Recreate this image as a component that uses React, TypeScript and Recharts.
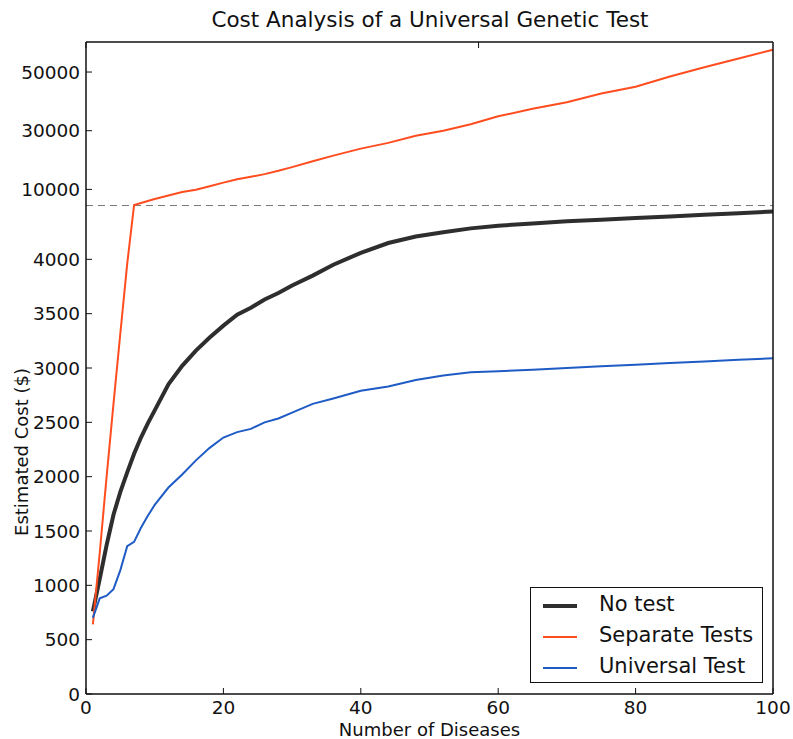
import { LineChart, Line, XAxis, YAxis, ReferenceLine, Legend } from "recharts";

const diseaseCounts = [
  1, 2, 3, 4, 5, 6, 7, 8, 9, 10, 12, 14, 16, 18, 20, 22, 24, 26, 28, 30, 33, 36, 40, 44, 48, 52, 56, 60,
  65, 70, 75, 80, 85, 90, 95, 100,
];
const noTestCost = [
  760, 1060, 1370, 1650, 1860, 2040, 2210, 2360, 2490, 2610, 2850, 3020, 3160, 3280, 3390, 3490, 3555,
  3630, 3690, 3760, 3850, 3950, 4060, 4150, 4210, 4250, 4285, 4310, 4330, 4350, 4365, 4380, 4395, 4410,
  4425, 4440,
];
const separateTestsCost = [
  640, 1300, 2000, 2670, 3320, 3960, 4700, 5370, 6030, 6700, 7900, 9100, 9900, 11100, 12300, 13450,
  14280, 15200, 16330, 17600, 19600, 21500, 23900, 25850, 28250, 30000, 32200, 34900, 37500, 39700,
  42700, 45000, 48500, 51600, 54600, 57600,
];
const universalTestCost = [
  700, 880, 905, 965, 1140, 1360, 1400, 1530, 1640, 1740, 1900, 2020, 2150, 2265, 2360, 2410, 2440, 2500,
  2535, 2590, 2670, 2720, 2790, 2830, 2890, 2930, 2960, 2970, 2985, 3000, 3015, 3030, 3045, 3060, 3075,
  3090,
];
const yTickValues = [0, 500, 1000, 1500, 2000, 2500, 3000, 3500, 4000, 10000, 30000, 50000];
const xTickValues = [0, 20, 40, 60, 80, 100];
const seriesNames = ["No test", "Separate Tests", "Universal Test"];
const seriesColors = ["#2e2e2e", "#ff4d1f", "#1f5bc4"];

// broken y axis: plain scale up to the break, squeezed above it
const BREAK = 4495;
const UPPER_RATIO = 0.027;
const toAxis = (v: number) => (v <= BREAK ? v : BREAK + (v - BREAK) * UPPER_RATIO);

const data = diseaseCounts.map((n, i) => ({
  n,
  noTest: toAxis(noTestCost[i]),
  separate: toAxis(separateTestsCost[i]),
  universal: toAxis(universalTestCost[i]),
}));

const yTicks = yTickValues.map(toAxis);
const yLabel = (t: number) => {
  const i = yTicks.findIndex((v) => Math.abs(v - t) < 0.01);
  return i >= 0 ? String(yTickValues[i]) : "";
};

const FONT = "'DejaVu Sans', sans-serif";
const tickStyle = { fontFamily: FONT, fontSize: 18.5, fill: "#111" };
const labelStyle = { fontFamily: FONT, fontSize: 18, fill: "#111" };
const frame = { stroke: "#111", strokeWidth: 1.5 };
const noLabel = () => <g />;

function LegendBox() {
  const widths = [4, 2, 2];
  return (
    <div
      style={{
        position: "relative",
        width: 233,
        height: 96,
        border: "1.5px solid #111",
        background: "#fff",
        boxSizing: "border-box",
        fontFamily: FONT,
        fontSize: 21,
        color: "#111",
      }}
    >
      {seriesNames.map((name, i) => (
        <div key={name} style={{ position: "absolute", left: 0, top: 3 + i * 31, height: 28, width: "100%" }}>
          <svg width={60} height={28} style={{ position: "absolute", left: 0, top: 0 }}>
            <line x1={12} x2={46} y1={15} y2={15} stroke={seriesColors[i]} strokeWidth={widths[i]} />
          </svg>
          <span style={{ position: "absolute", left: 68, top: 1, whiteSpace: "nowrap" }}>{name}</span>
        </div>
      ))}
    </div>
  );
}

export default function App() {
  return (
    <div style={{ position: "absolute", left: 0, top: 0, width: 793, height: 739, background: "#fff" }}>
      <div
        style={{
          position: "absolute",
          left: 0,
          width: 860,
          top: 7,
          textAlign: "center",
          fontFamily: FONT,
          fontSize: 21.5,
          color: "#111",
          whiteSpace: "nowrap",
        }}
      >
        Cost Analysis of a Universal Genetic Test
      </div>
      <div
        style={{
          position: "absolute",
          left: 21,
          top: 452,
          transform: "translate(-50%, -50%) rotate(-90deg)",
          fontFamily: FONT,
          fontSize: 18,
          color: "#111",
          whiteSpace: "nowrap",
        }}
      >
        Estimated Cost ($)
      </div>
      <LineChart
        width={793}
        height={739}
        data={data}
        margin={{ top: 41, right: 19, bottom: 0, left: 6 }}
        style={{ position: "absolute", left: 0, top: 0 }}
      >
        <XAxis
          dataKey="n"
          type="number"
          domain={[0, 100]}
          ticks={xTickValues}
          height={45}
          tickSize={-6}
          tickMargin={13}
          tick={tickStyle}
          axisLine={frame}
          tickLine={{ stroke: "#111" }}
          label={{ value: "Number of Diseases", position: "insideBottom", offset: 3, style: labelStyle }}
        />
        <XAxis
          xAxisId="top"
          orientation="top"
          type="number"
          domain={[0, 100]}
          ticks={xTickValues}
          height={1}
          tickSize={-6}
          tick={noLabel}
          axisLine={frame}
          tickLine={{ stroke: "#111" }}
        />
        <YAxis
          type="number"
          domain={[0, 6000]}
          ticks={yTicks}
          width={80}
          tickSize={-6}
          tickMargin={12}
          tick={tickStyle}
          tickFormatter={yLabel}
          axisLine={frame}
          tickLine={{ stroke: "#111" }}
        />
        <YAxis
          yAxisId="right"
          orientation="right"
          type="number"
          domain={[0, 6000]}
          ticks={yTicks}
          width={1}
          tickSize={-6}
          tick={noLabel}
          axisLine={frame}
          tickLine={{ stroke: "#111" }}
        />
        <ReferenceLine y={BREAK} stroke="#777" strokeDasharray="7 5" strokeWidth={1} />
        <Line
          dataKey="noTest"
          name={seriesNames[0]}
          stroke={seriesColors[0]}
          strokeWidth={4}
          dot={false}
          type="linear"
          isAnimationActive={false}
        />
        <Line
          dataKey="separate"
          name={seriesNames[1]}
          stroke={seriesColors[1]}
          strokeWidth={2}
          dot={false}
          type="linear"
          isAnimationActive={false}
        />
        <Line
          dataKey="universal"
          name={seriesNames[2]}
          stroke={seriesColors[2]}
          strokeWidth={2}
          dot={false}
          type="linear"
          isAnimationActive={false}
        />
        <Legend
          layout="horizontal"
          verticalAlign="middle"
          content={() => <LegendBox />}
          wrapperStyle={{ position: "absolute", left: 530, top: 587, width: 233, height: 96 }}
        />
      </LineChart>
    </div>
  );
}
